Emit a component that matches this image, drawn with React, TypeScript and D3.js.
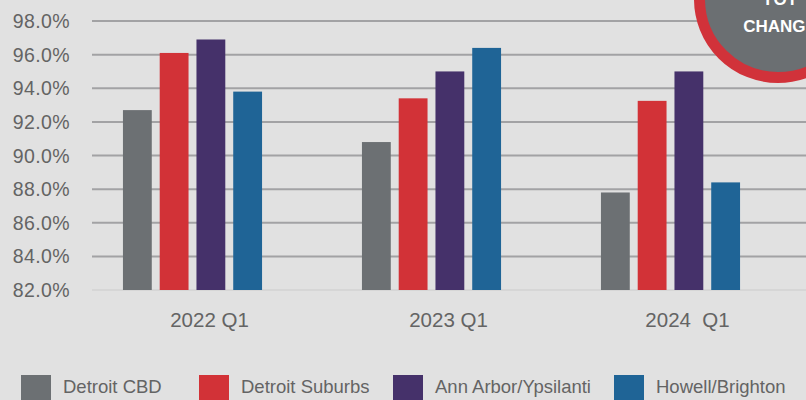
import React, { useRef, useEffect } from "react";
import * as d3 from "d3";

const categories = ["2022 Q1", "2023 Q1", "2024  Q1"];
const series = ["Detroit CBD", "Detroit Suburbs", "Ann Arbor/Ypsilanti", "Howell/Brighton"];
const colors = ["#6c7073", "#d23237", "#45316a", "#1f6496"];

// occupancy % per series, one value per category
const detroitCBD = [92.7, 90.8, 87.8];
const detroitSuburbs = [96.1, 93.4, 93.25];
const annArbor = [96.9, 95.0, 95.0];
const howellBrighton = [93.8, 96.4, 88.4];

const yTicks = [82, 84, 86, 88, 90, 92, 94, 96, 98];

const WIDTH = 806;
const HEIGHT = 400;
const FONT = "'Liberation Sans', Arial, Helvetica, sans-serif";

const App = () => {
  const node: any = useRef();

  useEffect(() => {
    const svg = d3.select(node.current);
    svg.selectAll("*").remove();

    const values = [detroitCBD, detroitSuburbs, annArbor, howellBrighton];

    svg
      .append("rect")
      .attr("width", WIDTH)
      .attr("height", HEIGHT)
      .attr("fill", "#e1e1e1");

    const y = d3.scaleLinear().domain([82, 98]).range([290, 21]);

    const x0 = d3
      .scaleBand()
      .domain(categories)
      .range([73, 790])
      .paddingInner(0.418)
      .paddingOuter(0.209);

    const x1 = d3
      .scaleBand()
      .domain(series)
      .range([0, x0.bandwidth()])
      .paddingInner(0.216);

    // grid lines
    svg
      .append("g")
      .selectAll("line")
      .data(yTicks)
      .enter()
      .append("line")
      .attr("x1", 92)
      .attr("x2", WIDTH)
      .attr("y1", d => y(d))
      .attr("y2", d => y(d))
      .attr("stroke", d => (d === 82 ? "#d6d6d6" : "#a2a2a4"))
      .attr("stroke-width", 2);

    // y tick labels
    svg
      .append("g")
      .selectAll("text")
      .data(yTicks)
      .enter()
      .append("text")
      .attr("x", 70)
      .attr("y", d => y(d) + 7)
      .attr("text-anchor", "end")
      .attr("font-family", FONT)
      .attr("font-size", 19.5)
      .attr("letter-spacing", 0.4)
      .attr("fill", "#646464")
      .text(d => d.toFixed(1) + "%");

    // bars
    const groups = svg
      .append("g")
      .selectAll("g")
      .data(categories)
      .enter()
      .append("g")
      .attr("transform", d => `translate(${x0(d)},0)`);

    groups
      .selectAll("rect")
      .data((_, ci) => series.map((s, si) => ({ s, si, v: values[si][ci] })))
      .enter()
      .append("rect")
      .attr("x", d => x1(d.s) as number)
      .attr("width", x1.bandwidth())
      .attr("y", d => y(d.v))
      .attr("height", d => y(82) - y(d.v))
      .attr("fill", d => colors[d.si]);

    // category labels
    svg
      .append("g")
      .selectAll("text")
      .data(categories)
      .enter()
      .append("text")
      .attr("x", d => (x0(d) as number) + x0.bandwidth() / 2 + 17)
      .attr("y", 326.5)
      .attr("text-anchor", "middle")
      .attr("font-family", FONT)
      .attr("font-size", 20.5)
      .attr("fill", "#646464")
      .style("white-space", "pre")
      .text(d => d);

    // legend
    const legendX = [21, 199, 393, 614];
    const legend = svg
      .append("g")
      .selectAll("g")
      .data(series)
      .enter()
      .append("g")
      .attr("transform", (_, i) => `translate(${legendX[i]},375)`);
    legend
      .append("rect")
      .attr("width", 30)
      .attr("height", 30)
      .attr("fill", (_, i) => colors[i]);
    legend
      .append("text")
      .attr("x", 42)
      .attr("y", 18)
      .attr("font-family", FONT)
      .attr("font-size", 18.5)
      .attr("fill", "#646464")
      .text(d => d);

    // YOY change badge in the corner
    const badge = svg.append("g");
    badge
      .append("circle")
      .attr("cx", 778)
      .attr("cy", -1)
      .attr("r", 78.5)
      .attr("fill", "#6b6f72")
      .attr("stroke", "#d1323a")
      .attr("stroke-width", 11);
    badge
      .append("text")
      .attr("x", 780)
      .attr("y", 5)
      .attr("text-anchor", "middle")
      .attr("font-family", FONT)
      .attr("font-weight", "bold")
      .attr("font-size", 17)
      .attr("fill", "#ffffff")
      .text("YOY");
    badge
      .append("text")
      .attr("x", 780)
      .attr("y", 32)
      .attr("text-anchor", "middle")
      .attr("font-family", FONT)
      .attr("font-weight", "bold")
      .attr("font-size", 17)
      .attr("fill", "#ffffff")
      .text("CHANGE");
  }, []);

  return (
    <svg
      ref={node}
      width={WIDTH}
      height={HEIGHT}
      style={{ position: "absolute", left: 0, top: 0, display: "block" }}
    ></svg>
  );
};

export default App;
